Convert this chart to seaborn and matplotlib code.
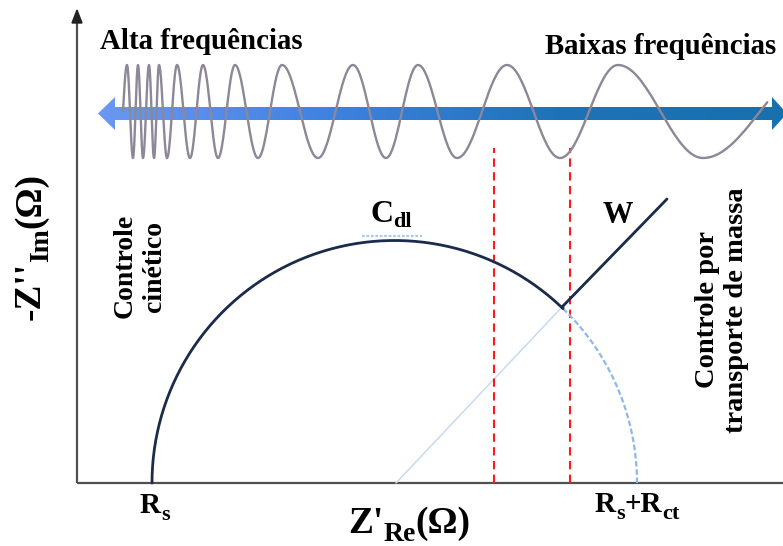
import numpy as np
import pandas as pd
import matplotlib
matplotlib.use("Agg")
import matplotlib.pyplot as plt
import matplotlib.transforms as mtransforms
from matplotlib.patches import Polygon
from matplotlib.colors import LinearSegmentedColormap
import seaborn as sns

# ── Schematic values (axis units, origin where the two axes meet) ────────────
RS = 75.0                      # solution resistance
RCT = 485.0                    # charge-transfer resistance
JUNCTION_X = 486.0             # where the Warburg tail takes over
WARBURG_X = [486.0, 590.0]
WARBURG_Y = [177.0, 284.0]
DIFF_LINE_X = [319.0, 486.0]   # faint extrapolation of the Warburg line
DIFF_LINE_Y = [0.0, 177.0]
FREQ_MARKS_X = [417.0, 493.0]  # red dashed frequency markers
FREQ_MARKS_TOP = 335.0
CDL_X = [285.0, 345.0]
CDL_Y = 247.0

# frequency sweep sketch: extremum positions (+1 crest / -1 trough)
WAVE_X = [46, 50, 56, 61, 66, 72, 77, 82, 90, 100, 113, 126, 141, 158,
          181, 205, 241, 276, 309, 341, 380, 430, 483, 541, 626, 740]
WAVE_S = [0] + [1 if i % 2 == 0 else -1 for i in range(len(WAVE_X) - 1)]
WAVE_END = 693.0
WAVE_Y0 = 371.5
WAVE_AMP = 46.5

ARROW_X = [21.0, 710.0]
ARROW_Y = 369.5

# ── Style ────────────────────────────────────────────────────────────────────
NAVY = "#1b2b4b"
LIGHT = "#8fb8ea"
FAINT = "#c6daf2"
RED = "#ff1a1a"
AXIS = "#505050"
WAVE = "#8d8797"
SERIF = ["Liberation Serif", "DejaVu Serif"]

sns.set_theme(style="white")
plt.rcParams["font.family"] = SERIF
plt.rcParams["text.color"] = "black"

fig = plt.figure(figsize=(7.83, 5.46), dpi=100)
ax = fig.add_axes([0, 0, 1, 1])
ax.set_xlim(-77, 706)
ax.set_ylim(-63, 483)
ax.axis("off")

# ── Axes with arrow on the ordinate ──────────────────────────────────────────
ax.plot([0, 706], [0, 0], color=AXIS, lw=1.6, solid_capstyle="butt", zorder=3)
ax.plot([0, 0], [0, 462], color=AXIS, lw=1.6, solid_capstyle="butt", zorder=3)
ax.add_patch(Polygon([(-5, 460), (5, 460), (0, 473)], closed=True,
                     color="#222222", zorder=3))

# ── Double-headed gradient arrow ─────────────────────────────────────────────
x0, x1 = ARROW_X
hs, hh = 6.5, 16.5
arrow = Polygon([(x0, ARROW_Y), (x0 + 17, ARROW_Y + hh), (x0 + 17, ARROW_Y + hs),
                 (x1 - 15, ARROW_Y + hs), (x1 - 15, ARROW_Y + hh), (x1, ARROW_Y),
                 (x1 - 15, ARROW_Y - hh), (x1 - 15, ARROW_Y - hs),
                 (x0 + 17, ARROW_Y - hs), (x0 + 17, ARROW_Y - hh)],
                closed=True, facecolor="none", edgecolor="none")
ax.add_patch(arrow)
cmap = LinearSegmentedColormap.from_list("arr", ["#6a98f3", "#3f82e0", "#1e73b8", "#1870ad"])
img = ax.imshow(np.linspace(0, 1, 256).reshape(1, -1), cmap=cmap, aspect="auto",
                extent=[x0, x1, ARROW_Y - hh, ARROW_Y + hh], zorder=2)
img.set_clip_path(arrow)
ax.set_xlim(-77, 706)
ax.set_ylim(-63, 483)

# ── Frequency sweep wave ─────────────────────────────────────────────────────
wx, wy = [], []
for i in range(len(WAVE_X) - 1):
    t = np.linspace(0, 1, 40)
    if WAVE_S[i] == 0:
        yy = WAVE_S[i + 1] * np.sin(np.pi / 2 * t)
    else:
        yy = WAVE_S[i] * np.cos(np.pi * t)
    xx = WAVE_X[i] + (WAVE_X[i + 1] - WAVE_X[i]) * t
    keep = xx <= WAVE_END
    wx.extend(xx[keep])
    wy.extend(WAVE_Y0 + WAVE_AMP * yy[keep])
wave = pd.DataFrame({"x": wx, "y": wy})
sns.lineplot(data=wave, x="x", y="y", sort=False, estimator=None, ax=ax,
             color=WAVE, lw=1.7, zorder=4, legend=False)

# ── Nyquist semicircle + Warburg tail ────────────────────────────────────────
centre, radius = RS + RCT / 2, RCT / 2
th_j = np.arccos((JUNCTION_X - centre) / radius)
th_solid = np.linspace(np.pi, th_j, 200)
solid = pd.DataFrame({
    "x": np.r_[centre + radius * np.cos(th_solid), WARBURG_X],
    "y": np.r_[radius * np.sin(th_solid), WARBURG_Y],
})
sns.lineplot(data=solid, x="x", y="y", sort=False, estimator=None, ax=ax,
             color=NAVY, lw=2.0, zorder=5, legend=False)

th_dash = np.linspace(th_j, 0, 80)
dashed = pd.DataFrame({"x": centre + radius * np.cos(th_dash),
                       "y": radius * np.sin(th_dash)})
sns.lineplot(data=dashed, x="x", y="y", sort=False, estimator=None, ax=ax,
             color=LIGHT, lw=1.6, dashes=False, zorder=4, legend=False)
ax.lines[-1].set_dashes((2.5, 1.2))

sns.lineplot(x=DIFF_LINE_X, y=DIFF_LINE_Y, ax=ax, color=FAINT, lw=1.1,
             zorder=3, legend=False)

# C_dl marker above the arc top
ax.plot(CDL_X, [CDL_Y, CDL_Y], color="#a9c8ee", lw=1.6, ls=(0, (1.2, 0.8)), zorder=4)

# red dashed frequency markers
for fx in FREQ_MARKS_X:
    ax.plot([fx, fx], [0, FREQ_MARKS_TOP], color=RED, lw=1.5,
            ls=(0, (4, 2.6)), zorder=3)

# ── Text ─────────────────────────────────────────────────────────────────────
renderer = fig.canvas.get_renderer()


def rich_text(x, y, pieces, rotation=0):
    adv = 0.0
    for s, size, shift in pieces:
        dx, dy = (adv, shift) if rotation == 0 else (-shift, adv)
        tr = mtransforms.offset_copy(ax.transData, fig=fig, x=dx, y=dy, units="dots")
        t = ax.text(x, y, s, transform=tr, fontsize=size, fontweight="bold",
                    ha="left", va="baseline", rotation=rotation,
                    rotation_mode="anchor", color="black", zorder=6)
        bb = t.get_window_extent(renderer)
        adv += bb.width if rotation == 0 else bb.height


ax.text(23, 434, "Alta frequências", fontsize=20.8, fontweight="bold",
        ha="left", va="baseline")
ax.text(468, 429, "Baixas frequências", fontsize=20.8, fontweight="bold",
        ha="left", va="baseline")

rich_text(293, 261, [("C", 23, 0), ("dl", 16, -5)])
ax.text(526, 260, "W", fontsize=22, fontweight="bold", ha="left", va="baseline")

rich_text(63, -30, [("R", 21, 0), ("s", 16, -7)])
rich_text(518, -29, [("R", 21, 0), ("s", 16, -7), ("+R", 21, 0), ("ct", 16, -7)])
rich_text(271, -50, [("Z'", 27, 0), ("Re", 20, -8), ("(Ω)", 27, 0)])
rich_text(-37, 163, [("-Z''", 27, 0), ("Im", 20, -8), ("(Ω)", 27, 0)], rotation=90)

ax.text(63, 217, "Controle\ncinético", fontsize=20, fontweight="bold",
        rotation=90, ha="center", va="center", linespacing=1.2)
ax.text(645, 173, "Controle por\ntransporte de massa", fontsize=20.5,
        fontweight="bold", rotation=90, ha="center", va="center", linespacing=1.2)

fig.savefig("out.png", dpi=100)
